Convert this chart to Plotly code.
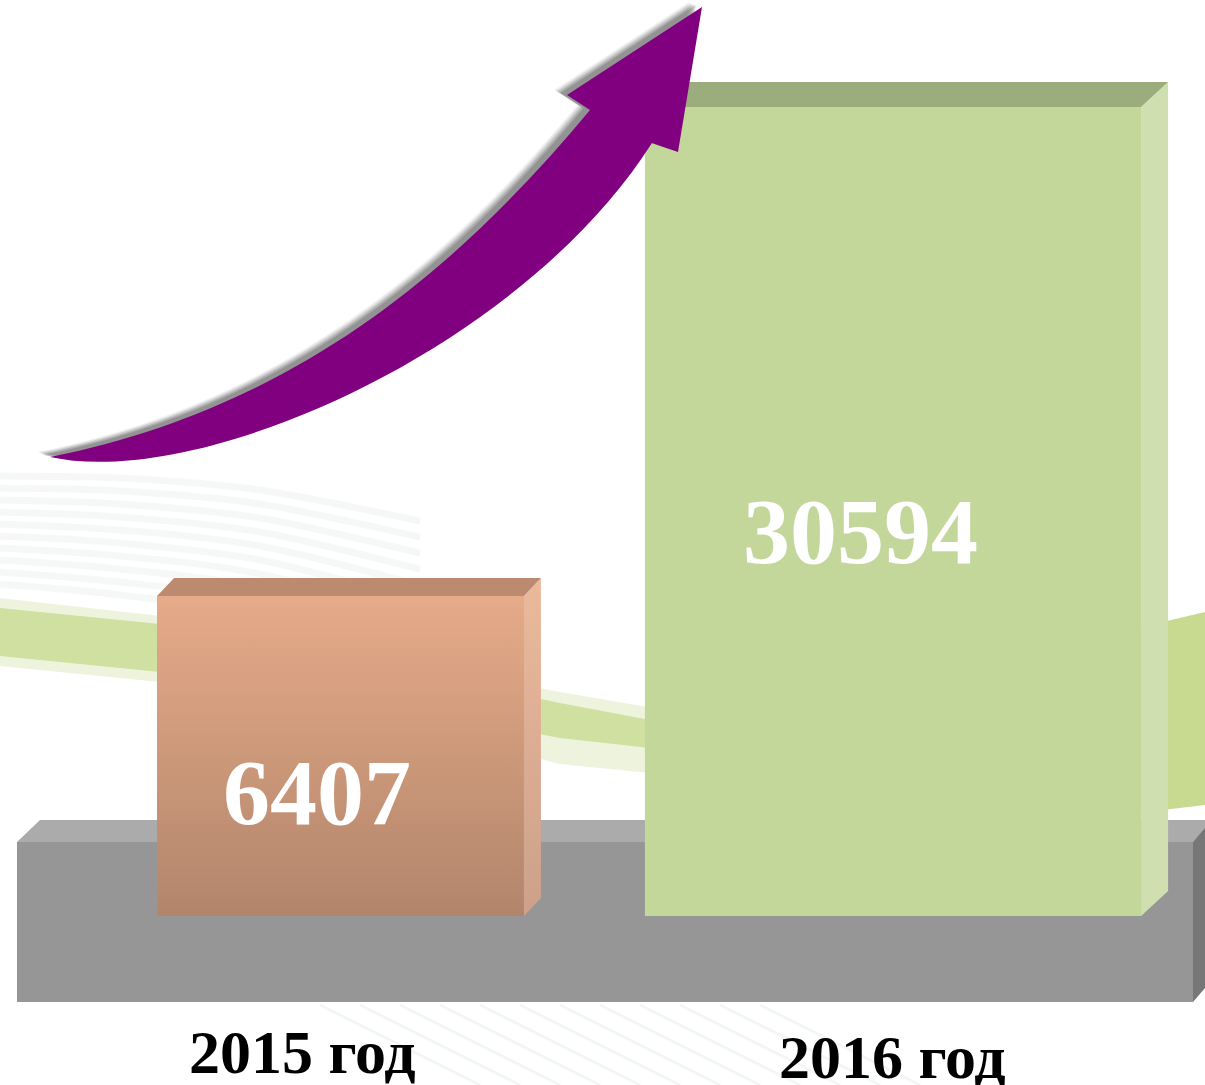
import plotly.graph_objects as go

# ---------------- data ----------------
years = ["2015 год", "2016 год"]
values = [6407, 30594]
value_labels = ["6407", "30594"]

# ---------------- layout constants ----------------
W, H = 1205, 1085
X_RANGE = [-0.6163, 1.5647]
Y_RANGE = [-17776, 35884]
BASE = -9418                      # level where the bars stand on the floor
bar_x = [0, 1]
bar_widths = [0.664, 0.898]
depth_px = [(17, 18), (27, 25)]   # 3D depth (dx, dy) in pixels
front_colors = ["#cf9a7c", "#c4d79b"]
grad_colors = [["#b2856b", "#e6ab89"], ["#c4d79b", "#c4d79b"]]
top_colors = ["#bc8a6e", "#9cad7d"]
side_grad = [["#cca08a", "#ebba9c"], ["#d0dfb0", "#d0dfb0"]]
FONT = "Liberation Serif, Times New Roman, serif"

ux = (X_RANGE[1] - X_RANGE[0]) / W   # data units per pixel
uy = (Y_RANGE[1] - Y_RANGE[0]) / H


def P(x, y):
    return x / W, 1 - y / H


def fmt(pt):
    a, b = P(*pt)
    return f"{a:.5f},{b:.5f}"


def smooth(pts):
    """Catmull-Rom through pixel points -> cubic bezier path fragment (paper coords)."""
    out = []
    n = len(pts)
    for i in range(n - 1):
        p0 = pts[i - 1] if i > 0 else pts[i]
        p1 = pts[i]
        p2 = pts[i + 1]
        p3 = pts[i + 2] if i + 2 < n else pts[i + 1]
        c1 = (p1[0] + (p2[0] - p0[0]) / 6, p1[1] + (p2[1] - p0[1]) / 6)
        c2 = (p2[0] - (p3[0] - p1[0]) / 6, p2[1] - (p3[1] - p1[1]) / 6)
        out.append(f"C {fmt(c1)} {fmt(c2)} {fmt(p2)}")
    return " ".join(out)


def poly(pts):
    s = []
    for i, pt in enumerate(pts):
        s.append(("M " if i == 0 else "L ") + fmt(pt))
    return " ".join(s) + " Z"


shapes = []

# ---------------- background decoration ----------------
for i in range(10):
    y0 = 476 + i * 12
    pts = [(0, y0), (120, y0 + 2 + i), (260, y0 + 14 + i * 2), (420, y0 + 45 + i * 4)]
    shapes.append(dict(type="path", xref="paper", yref="paper", layer="below",
                       path=f"M {fmt(pts[0])} " + smooth(pts),
                       line=dict(color="rgba(185,198,198,0.12)", width=7)))
band_left = [(0, 598), (160, 616), (350, 652), (560, 692), (700, 716),
             (700, 778), (560, 764), (350, 710), (160, 682), (0, 666)]
shapes.append(dict(type="path", xref="paper", yref="paper", layer="below",
                   path=poly(band_left), fillcolor="rgba(205,222,160,0.35)", line_width=0))
band_left_core = [(0, 608), (160, 624), (350, 660), (560, 703), (650, 720),
                  (650, 748), (560, 738), (350, 698), (160, 672), (0, 656)]
shapes.append(dict(type="path", xref="paper", yref="paper", layer="below",
                   path=poly(band_left_core), fillcolor="rgba(195,215,135,0.7)", line_width=0))
band_right = [(1120, 632), (1205, 612), (1205, 805), (1120, 815)]
shapes.append(dict(type="path", xref="paper", yref="paper", layer="below",
                   path=poly(band_right), fillcolor="rgba(190,210,125,0.85)", line_width=0))
for i in range(12):
    xa = 320 + i * 40
    shapes.append(dict(type="line", xref="paper", yref="paper", layer="below",
                       x0=xa / W, y0=1 - 1005 / H, x1=(xa + 160) / W, y1=0,
                       line=dict(color="rgba(190,205,205,0.18)", width=3)))

# ---------------- floor ----------------
shapes.append(dict(type="path", xref="paper", yref="paper", layer="below",
                   path=poly([(17, 842), (40, 820), (1205, 820), (1205, 830), (1193, 842)]),
                   fillcolor="#ababab", line_width=0))
shapes.append(dict(type="path", xref="paper", yref="paper", layer="below",
                   path=poly([(17, 842), (1193, 842), (1193, 1002), (17, 1002)]),
                   fillcolor="#969696", line_width=0))
shapes.append(dict(type="path", xref="paper", yref="paper", layer="below",
                   path=poly([(1193, 842), (1205, 828), (1205, 988), (1193, 1002)]),
                   fillcolor="#777777", line_width=0))

# ---------------- bars ----------------
fig = go.Figure()
fig.add_trace(go.Bar(
    x=bar_x, y=[v - BASE for v in values], base=BASE, width=bar_widths,
    marker=dict(color=front_colors, line=dict(width=0)),
    hoverinfo="skip", showlegend=False))

for i, v in enumerate(values):
    x0 = bar_x[i] - bar_widths[i] / 2
    x1 = bar_x[i] + bar_widths[i] / 2
    dx = depth_px[i][0] * ux
    dy = depth_px[i][1] * uy
    # front face gradient
    fig.add_trace(go.Scatter(
        x=[x0, x1, x1, x0, x0], y=[BASE, BASE, v, v, BASE], mode="lines",
        fill="toself", line=dict(width=0),
        fillgradient=dict(type="vertical",
                          colorscale=[[0, grad_colors[i][0]], [1, grad_colors[i][1]]]),
        hoverinfo="skip", showlegend=False))
    # side face gradient
    fig.add_trace(go.Scatter(
        x=[x1, x1 + dx, x1 + dx, x1, x1], y=[v, v + dy, BASE + dy, BASE, v], mode="lines",
        fill="toself", line=dict(width=0),
        fillgradient=dict(type="vertical",
                          colorscale=[[0, side_grad[i][0]], [1, side_grad[i][1]]]),
        hoverinfo="skip", showlegend=False))
    # top face
    shapes.append(dict(type="path", xref="x", yref="y", layer="above",
                       path=f"M {x0},{v} L {x1},{v} L {x1+dx},{v+dy} L {x0+dx},{v+dy} Z",
                       fillcolor=top_colors[i], line_width=0))

# ---------------- arrow (cubic bezier outline, pixel space) ----------------
TAIL = (50, 457)
UP_C1, UP_C2, NOTCH_L = (300, 407), (462, 264), (590, 110)
HEAD = [(567, 95), (702, 7), (678, 152), (652, 143)]
LO_C2, LO_C1 = (520, 350), (200, 490)


def arrow_path(ox=0, oy=0):
    t = lambda p: (p[0] + ox, p[1] + oy)
    s = f"M {fmt(t(TAIL))} C {fmt(t(UP_C1))} {fmt(t(UP_C2))} {fmt(t(NOTCH_L))}"
    for pt in HEAD:
        s += f" L {fmt(t(pt))}"
    s += f" C {fmt(t(LO_C2))} {fmt(t(LO_C1))} {fmt(t(TAIL))} Z"
    return s


shadow_layers = [(-13, -5, 0.05), (-12, -5, 0.07), (-11, -4, 0.09), (-10, -4, 0.11),
                 (-9, -3, 0.13), (-8, -3, 0.15), (-7, -2, 0.17), (-6, -2, 0.18)]
for ox, oy, op in shadow_layers:
    shapes.append(dict(type="path", xref="paper", yref="paper", layer="above",
                       path=arrow_path(ox, oy), fillcolor=f"rgba(90,90,90,{op})", line_width=0))
shapes.append(dict(type="path", xref="paper", yref="paper", layer="above",
                   path=arrow_path(), fillcolor="#800080", line_width=0))

# ---------------- text ----------------
annotations = []
value_pos = [(317, 792), (860, 531)]
for i, lab in enumerate(value_labels):
    px, py = value_pos[i]
    annotations.append(dict(x=px / W, y=1 - py / H, xref="paper", yref="paper",
                            text=f"<b>{lab}</b>", showarrow=False,
                            xanchor="center", yanchor="middle",
                            font=dict(family=FONT, size=94, color="white")))
label_pos = [(302, 1052), (892, 1057)]
for i, lab in enumerate(years):
    px, py = label_pos[i]
    annotations.append(dict(x=px / W, y=1 - py / H, xref="paper", yref="paper",
                            text=f"<b>{lab}</b>", showarrow=False,
                            xanchor="center", yanchor="middle",
                            font=dict(family=FONT, size=62, color="black")))

fig.update_layout(
    width=W, height=H, margin=dict(l=0, r=0, t=0, b=0),
    paper_bgcolor="white", plot_bgcolor="white",
    xaxis=dict(range=X_RANGE, visible=False, fixedrange=True),
    yaxis=dict(range=Y_RANGE, visible=False, fixedrange=True),
    shapes=shapes, annotations=annotations, showlegend=False, bargap=0,
)

fig.write_html("out.html", config={"displayModeBar": False},
               post_script=["document.body.style.margin='0';"])
